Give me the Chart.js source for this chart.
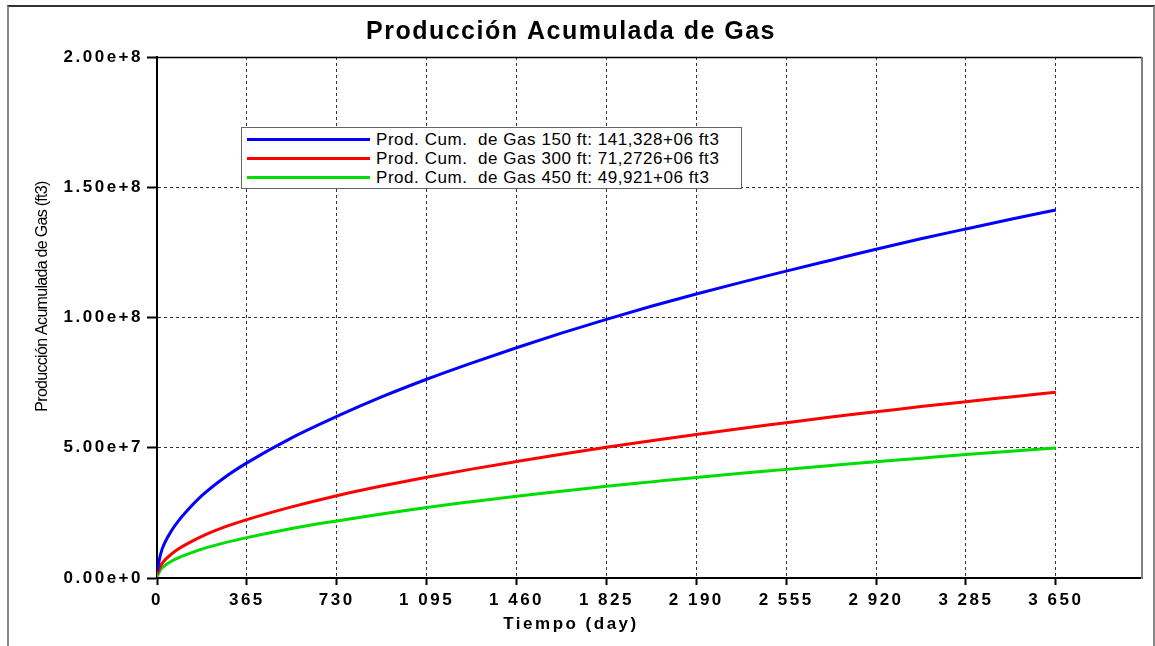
<!DOCTYPE html>
<html lang="es">
<head>
  <meta charset="UTF-8" />
  <title>Producción Acumulada de Gas</title>
  <script src="https://cdn.jsdelivr.net/npm/chart.js"></script>
  <style>
    html, body { margin: 0; padding: 0; background: #fff; overflow: hidden; }
    #wrap { position: relative; width: 1155px; height: 646px; }
    #frame { position: absolute; left: 7px; top: 5px; width: 1148px; height: 700px; box-sizing: border-box; border: 2px solid #8a8a8a; border-top-color: #333; pointer-events: none; }
    #legend { position: absolute; left: 241px; top: 127px; width: 501px; height: 62px; box-sizing: border-box; border: 1px solid #666; background: #fff; padding-top: 2px; font-family: 'Liberation Sans', Arial, sans-serif; font-size: 17px; letter-spacing: 0.55px; color: #000; }
    .row { display: flex; align-items: center; height: 19px; white-space: pre; }
    .swatch { width: 123px; height: 3px; margin: 0 6px 0 5px; flex: none; }
  </style>
</head>
<body>
  <div id="wrap">
    <canvas id="chart"></canvas>
    <div id="frame"></div>
    <div id="legend"></div>
  </div>
  <script>
    // time in days, cumulative gas in millions of ft3
    const days = [0, 15, 30, 60, 91, 122, 182, 273, 365, 547, 730, 912, 1095, 1277, 1460, 1642, 1825, 2007, 2190, 2372, 2555, 2737, 2920, 3102, 3285, 3467, 3650];
    const gas150 = [2.5, 9.3, 13.2, 18.3, 22.4, 25.8, 31.6, 38.5, 44.2, 53.8, 62.0, 69.5, 76.3, 82.5, 88.4, 94.0, 99.3, 104.3, 109.0, 113.5, 117.8, 122.0, 126.2, 130.2, 134.0, 137.7, 141.3];
    const gas300 = [1.5, 4.8, 6.7, 9.3, 11.4, 13.1, 16.0, 19.5, 22.4, 27.3, 31.6, 35.3, 38.7, 41.8, 44.7, 47.5, 50.2, 52.7, 55.1, 57.4, 59.6, 61.8, 63.8, 65.8, 67.7, 69.5, 71.3];
    const gas450 = [0.5, 3.3, 4.6, 6.5, 7.9, 9.1, 11.1, 13.5, 15.5, 19.0, 21.9, 24.6, 27.1, 29.3, 31.4, 33.3, 35.2, 36.9, 38.6, 40.2, 41.7, 43.2, 44.6, 46.0, 47.4, 48.7, 49.9];
    const seriesLabels = [
      'Prod. Cum.  de Gas 150 ft: 141,328+06 ft3',
      'Prod. Cum.  de Gas 300 ft: 71,2726+06 ft3',
      'Prod. Cum.  de Gas 450 ft: 49,921+06 ft3'
    ];
    const seriesColors = ['#0000ff', '#ff0000', '#00dd00'];
    const xTicks = [0, 365, 730, 1095, 1460, 1825, 2190, 2555, 2920, 3285, 3650];
    const yTicks = [0, 5e7, 1e8, 1.5e8, 2e8];

    const FONT = "'Liberation Sans', Arial, sans-serif";

    function toPoints(values) {
      return days.map((d, i) => ({ x: d, y: values[i] * 1e6 }));
    }

    function formatDay(v) {
      return String(v).replace(/\B(?=(\d{3})+(?!\d))/g, ' ');
    }

    function withSpacing(obj, method, spacing, shiftY) {
      if (!obj || obj['_sp_' + method]) return;
      const orig = obj[method];
      obj[method] = function () {
        const ctx = this.ctx;
        const prev = ctx.letterSpacing;
        ctx.save();
        ctx.letterSpacing = spacing;
        if (shiftY) ctx.translate(0, shiftY);
        const r = orig.apply(this, arguments);
        ctx.restore();
        ctx.letterSpacing = prev;
        return r;
      };
      obj['_sp_' + method] = true;
    }

    // wide letter spacing for the tick labels, tighter for titles
    const spacingPlugin = {
      id: 'spacing',
      beforeDraw(chart) {
        chart.ctx.letterSpacing = '2.5px';
        withSpacing(chart.scales.y, 'drawTitle', '-0.7px', -21);
        withSpacing(chart.titleBlock, 'draw', '1.5px', 0);
      }
    };

    // top and right edges of the plot box
    const boxPlugin = {
      id: 'box',
      beforeDatasetsDraw(chart) {
        const { ctx, chartArea: a } = chart;
        ctx.save();
        ctx.strokeStyle = '#000';
        ctx.lineWidth = 1.5;
        ctx.beginPath();
        ctx.moveTo(a.left, a.top + 0.5);
        ctx.lineTo(a.right, a.top + 0.5);
        ctx.stroke();
        ctx.strokeStyle = '#808080';
        ctx.lineWidth = 2;
        ctx.beginPath();
        ctx.moveTo(a.right, a.top);
        ctx.lineTo(a.right, a.bottom + 1);
        ctx.stroke();
        ctx.restore();
      }
    };

    const htmlLegend = {
      id: 'htmlLegend',
      afterUpdate(chart) {
        const box = document.getElementById('legend');
        box.innerHTML = chart.data.datasets.map(ds =>
          '<div class="row"><span class="swatch" style="background:' + ds.borderColor + '"></span>' + ds.label + '</div>'
        ).join('');
      }
    };

    const datasets = [gas150, gas300, gas450].map((vals, i) => ({
      label: seriesLabels[i],
      data: toPoints(vals),
      borderColor: seriesColors[i],
      backgroundColor: seriesColors[i],
      borderWidth: 3,
      pointRadius: 0,
      cubicInterpolationMode: 'monotone',
      fill: false
    }));

    const gridStyle = {
      color: '#333',
      lineWidth: 1,
      drawTicks: true,
      tickBorderDash: [],
      tickColor: '#000',
      tickWidth: 2
    };
    const borderStyle = { display: true, color: '#000', width: 2, dash: [3, 3] };

    new Chart(document.getElementById('chart'), {
      type: 'line',
      data: { datasets },
      plugins: [spacingPlugin, boxPlugin, htmlLegend],
      options: {
        responsive: true,
        maintainAspectRatio: false,
        animation: false,
        layout: { padding: { left: 0, right: 13, top: 0, bottom: 0 } },
        plugins: {
          legend: { display: false },
          tooltip: { enabled: false },
          title: {
            display: true,
            text: 'Producción Acumulada de Gas',
            color: '#000',
            font: { family: FONT, size: 25, weight: 'bold', lineHeight: 1.2 },
            padding: { top: 17, bottom: 10 }
          },
          subtitle: {
            display: true,
            position: 'bottom',
            text: 'Tiempo (day)',
            color: '#000',
            font: { family: FONT, size: 17, weight: 'bold', lineHeight: 1.2 },
            padding: { top: 2, bottom: 11.6 }
          }
        },
        scales: {
          x: {
            type: 'linear',
            min: 0,
            max: 4000,
            afterBuildTicks: scale => { scale.ticks = xTicks.map(v => ({ value: v })); },
            afterFit: scale => { scale.height = 34; },
            grid: Object.assign({}, gridStyle, { tickLength: 7 }),
            border: borderStyle,
            ticks: {
              autoSkip: false,
              maxRotation: 0,
              padding: 5,
              color: '#000',
              font: { family: FONT, size: 17, weight: 'bold' },
              callback: v => formatDay(v)
            }
          },
          y: {
            min: 0,
            max: 2e8,
            afterBuildTicks: scale => { scale.ticks = yTicks.map(v => ({ value: v })); },
            afterFit: scale => { scale.width = 157; },
            grid: Object.assign({}, gridStyle, { tickLength: 10 }),
            border: borderStyle,
            ticks: {
              padding: 4,
              color: '#000',
              font: { family: FONT, size: 17, weight: 'bold' },
              callback: v => Number(v).toExponential(2)
            },
            title: {
              display: true,
              text: 'Producción Acumulada de Gas (ft3)',
              color: '#000',
              font: { family: FONT, size: 16, lineHeight: 1.2 },
              padding: { top: 33, bottom: 0 }
            }
          }
        }
      }
    });
  </script>
</body>
</html>
